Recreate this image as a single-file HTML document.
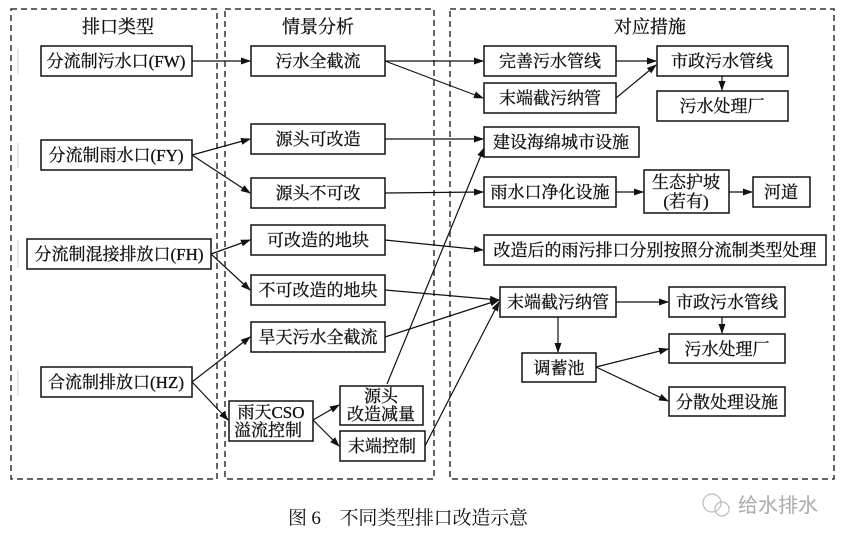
<!DOCTYPE html>
<html><head><meta charset="utf-8"><style>
html,body{margin:0;padding:0;background:#fff;width:848px;height:539px;overflow:hidden}
svg text{font-family:"Liberation Serif","Noto Serif CJK SC","Noto Sans CJK SC",serif;fill:#111}
</style></head><body>
<svg width="848" height="539" viewBox="0 0 848 539" xmlns="http://www.w3.org/2000/svg">
<defs><marker id="a" markerWidth="10" markerHeight="8" refX="9" refY="4" orient="auto" markerUnits="userSpaceOnUse"><path d="M0,0.5 L10,4 L0,7.5 z" fill="#111"/></marker></defs>
<g fill="none" stroke="#333" stroke-width="1.5" stroke-dasharray="6,4">
<rect x="11" y="9" width="206" height="470"/>
<rect x="225" y="9" width="209" height="470"/>
<rect x="450" y="9" width="384" height="470"/>
</g>
<g stroke="#ccc" stroke-width="1">
<line x1="18" y1="49" x2="18" y2="74"/><line x1="18" y1="143" x2="18" y2="168"/><line x1="18" y1="240" x2="18" y2="268"/><line x1="18" y1="370" x2="18" y2="396"/>
</g>
<g font-size="18" text-anchor="middle" stroke="#111" stroke-width="0.3">
<text x="118" y="33">排口类型</text><text x="318" y="33">情景分析</text><text x="650" y="33">对应措施</text>
</g>
<g fill="#fff" stroke="#111" stroke-width="1.5">
<rect x="41" y="46" width="151" height="30"/><rect x="41" y="140" width="151" height="30"/>
<rect x="27" y="239" width="184" height="30"/><rect x="41" y="367" width="151" height="30"/>
<rect x="251" y="46" width="134" height="30"/><rect x="251" y="124" width="134" height="30"/>
<rect x="251" y="178" width="134" height="30"/><rect x="251" y="225" width="134" height="30"/>
<rect x="251" y="275" width="134" height="30"/><rect x="251" y="322" width="134" height="30"/>
<rect x="229" y="401" width="84" height="40"/><rect x="340" y="386" width="83" height="39"/>
<rect x="340" y="431" width="85" height="30"/>
<rect x="484" y="46" width="132" height="30"/><rect x="484" y="83" width="132" height="30"/>
<rect x="657" y="46" width="131" height="30"/><rect x="657" y="91" width="131" height="30"/>
<rect x="484" y="127" width="155" height="30"/><rect x="484" y="177" width="132" height="30"/>
<rect x="644" y="170" width="85" height="43"/><rect x="753" y="177" width="57" height="30"/>
<rect x="484" y="235" width="342" height="30"/>
<rect x="500" y="287" width="116" height="30"/><rect x="669" y="287" width="116" height="30"/>
<rect x="669" y="334" width="116" height="29"/><rect x="522" y="353" width="74" height="29"/>
<rect x="669" y="387" width="116" height="29"/>
</g>
<g font-size="17" text-anchor="middle" stroke="#111" stroke-width="0.3">
<text x="116" y="67">分流制污水口(FW)</text>
<text x="116" y="161">分流制雨水口(FY)</text>
<text x="119" y="260">分流制混接排放口(FH)</text>
<text x="116" y="388">合流制排放口(HZ)</text>
<text x="318" y="67">污水全截流</text><text x="318" y="145">源头可改造</text>
<text x="318" y="199">源头不可改</text><text x="318" y="246">可改造的地块</text>
<text x="318" y="296">不可改造的地块</text><text x="318" y="343">旱天污水全截流</text>
<text x="271" y="418">雨天CSO</text><text x="268" y="436">溢流控制</text>
<text x="381" y="402">源头</text><text x="381" y="420">改造减量</text>
<text x="382" y="452">末端控制</text>
<text x="550" y="67">完善污水管线</text><text x="550" y="104">末端截污纳管</text>
<text x="722" y="67">市政污水管线</text><text x="722" y="112">污水处理厂</text>
<text x="561" y="148">建设海绵城市设施</text><text x="550" y="198">雨水口净化设施</text>
<text x="686" y="188">生态护坡</text><text x="686" y="207">(若有)</text>
<text x="781" y="198">河道</text>
<text x="655" y="256">改造后的雨污排口分别按照分流制类型处理</text>
<text x="558" y="308">末端截污纳管</text><text x="727" y="308">市政污水管线</text>
<text x="727" y="355">污水处理厂</text><text x="559" y="374">调蓄池</text>
<text x="727" y="408">分散处理设施</text>
</g>
<g stroke="#111" stroke-width="1.2" marker-end="url(#a)">
<line x1="192" y1="61" x2="250" y2="61"/>
<line x1="385" y1="61" x2="483" y2="61"/><line x1="385" y1="61" x2="483" y2="98"/>
<line x1="616" y1="61" x2="656" y2="61"/><line x1="616" y1="98" x2="656" y2="65"/>
<line x1="722" y1="76" x2="722" y2="90"/>
<line x1="192" y1="155" x2="250" y2="139"/><line x1="192" y1="155" x2="250" y2="193"/>
<line x1="385" y1="139" x2="483" y2="139"/><line x1="385" y1="193" x2="483" y2="192"/>
<line x1="616" y1="192" x2="643" y2="192"/><line x1="729" y1="192" x2="752" y2="192"/>
<line x1="211" y1="254" x2="250" y2="240"/><line x1="211" y1="254" x2="250" y2="290"/>
<line x1="385" y1="240" x2="483" y2="250"/>
<line x1="385" y1="290" x2="499" y2="300"/><line x1="385" y1="337" x2="499" y2="300"/>
<line x1="425" y1="446" x2="499" y2="302"/>
<line x1="387" y1="384" x2="484" y2="148"/>
<line x1="192" y1="382" x2="250" y2="337"/><line x1="192" y1="382" x2="228" y2="420"/>
<line x1="313" y1="420" x2="339" y2="405"/><line x1="313" y1="420" x2="339" y2="446"/>
<line x1="558" y1="317" x2="558" y2="352"/><line x1="616" y1="302" x2="668" y2="302"/>
<line x1="722" y1="317" x2="722" y2="333"/>
<line x1="596" y1="367" x2="668" y2="349"/><line x1="596" y1="367" x2="668" y2="401"/>
</g>
<text x="288" y="524" font-size="19" textLength="240" lengthAdjust="spacing">图 6　不同类型排口改造示意</text>
<g stroke="#bbb" fill="none" stroke-width="1.2"><circle cx="712" cy="503" r="9"/><circle cx="722" cy="509" r="7"/></g>
<text x="738" y="512" font-size="20" style="fill:#aaa;font-family:'Noto Sans CJK SC',sans-serif">给水排水</text>
</svg>
</body></html>
